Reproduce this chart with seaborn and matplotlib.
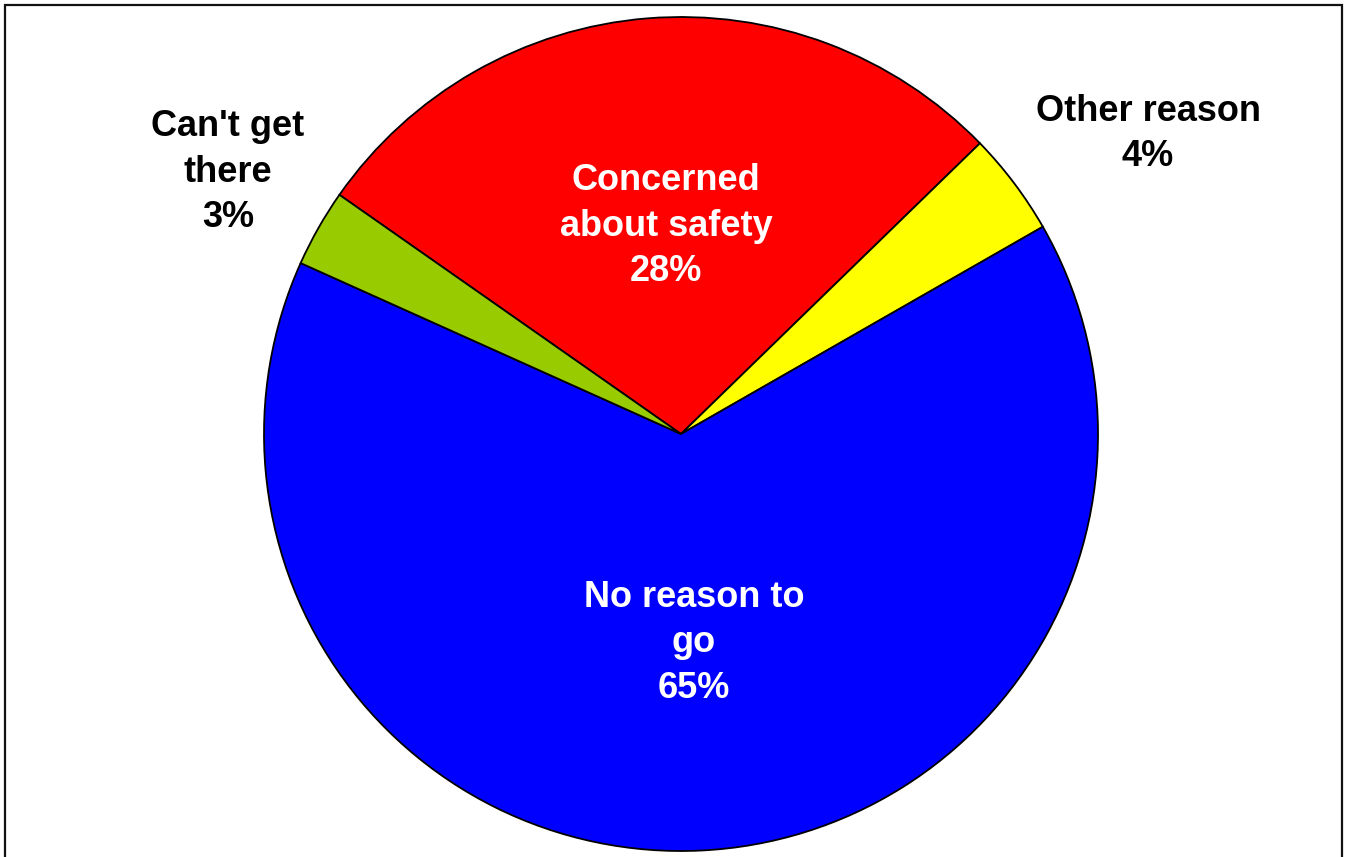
import matplotlib
matplotlib.use("Agg")
import matplotlib.pyplot as plt
from matplotlib.patches import Rectangle
import seaborn as sns

# Reasons for not going, share of respondents (%)
categories = ["Concerned\nabout safety", "Other reason", "No reason to\ngo", "Can't get\nthere"]
values = [28, 4, 65, 3]
colors = ["#FF0000", "#FFFF00", "#0000FF", "#99CC00"]
text_colors = ["white", "black", "white", "black"]

sns.set_theme(style="white")
plt.rcParams["font.family"] = ["Liberation Sans", "DejaVu Sans"]

W, H = 1350, 857
fig = plt.figure(figsize=(W / 100, H / 100), dpi=100)
ax = fig.add_axes([0, 0, 1, 1])

cx, cy, r = 681, H - 434, 417
ax.pie(values, colors=colors, startangle=145, counterclock=False,
       center=(cx, cy), radius=r, frame=True,
       wedgeprops=dict(edgecolor="black", linewidth=1.3))
ax.set_xlim(0, W)
ax.set_ylim(0, H)
ax.axis("off")

# label anchor points (pixels from top-left)
label_pos = [(666, 226), (1148, 134), (694, 643), (228, 172)]
for cat, v, tc, (lx, ly) in zip(categories, values, text_colors, label_pos):
    ax.text(lx, H - ly, f"{cat}\n{v}%", ha="center", va="center",
            fontsize=26, fontweight="bold", color=tc, linespacing=1.4,
            multialignment="center")

# chart border
fig.patches.append(Rectangle((5 / W, -0.01), 1337 / W, 1 - 5 / H + 0.01,
                             transform=fig.transFigure, fill=False,
                             edgecolor="#111111", linewidth=1.6))

fig.savefig("out.png", dpi=100)
